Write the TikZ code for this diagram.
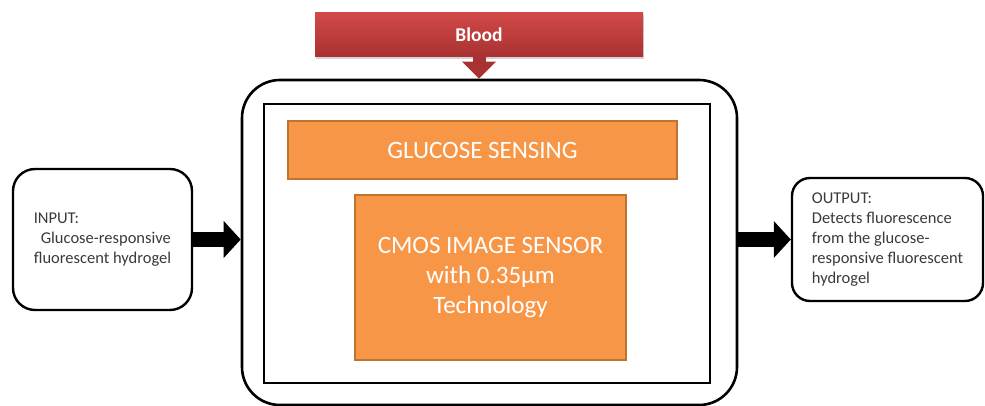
\documentclass[tikz,border=0pt]{standalone}
\usepackage{fontspec}
\setmainfont{Carlito}
\usetikzlibrary{arrows.meta,shadows}
\definecolor{orangefill}{HTML}{F79646}
\definecolor{orangeedge}{HTML}{C0722F}
\definecolor{bloodtop}{HTML}{D24848}
\definecolor{bloodbot}{HTML}{A93131}
\definecolor{bloodarrow}{HTML}{A83232}
\definecolor{labelgray}{HTML}{3A3A3A}
\begin{document}
\begin{tikzpicture}[x=1pt,y=-1pt,
  frame/.style={draw=black, line width=2.6pt, inner sep=0pt},
  orangebox/.style={draw=orangeedge, line width=1.2pt, fill=orangefill,
    text=white, font=\fontsize{25}{30}\selectfont, align=center, inner sep=0pt},
  sidebox/.style={draw=black, line width=2.4pt, fill=white, text=labelgray,
    font=\fontsize{16.5}{20}\selectfont, align=left, inner sep=0pt},
  bigarrow/.style={line width=15pt, -{Triangle[width=36pt,length=17pt]}},
  bannerbox/.style={top color=bloodtop, bottom color=bloodbot, draw=none,
    text=white, font=\fontsize{19.5}{22}\selectfont\bfseries, inner sep=0pt,
    drop shadow={shadow xshift=1pt, shadow yshift=-2pt, opacity=0.35}}]
\useasboundingbox (0,0) rectangle (985,406);
\clip (0,0) rectangle (985,406);
\fill[white] (0,0) rectangle (985,406);

% main sensor block
\node[frame, rounded corners=38pt, minimum width=495pt, minimum height=325pt] (outer) at (489.5,242.5) {};
\node[frame, minimum width=446pt, minimum height=279pt] (inner) at (487,243.5) {};
\node[orangebox, minimum width=389pt, minimum height=58pt] (sensing) at (482.5,150) {GLUCOSE SENSING};
\node[orangebox, minimum width=271pt, minimum height=165pt] (cmos) at (490.5,277.5)
  {CMOS IMAGE SENSOR\\ with 0.35µm\\ Technology};

% blood input banner
\node[bannerbox, minimum width=328pt, minimum height=44pt] (blood) at (479,35) {Blood};
\draw[bloodarrow, line width=13pt, -{Triangle[width=33pt,length=17pt]}]
  (blood.south) -- (blood.south |- outer.north);

% input and output boxes
\node[sidebox, rounded corners=22pt, minimum width=179pt, minimum height=141pt] (input) at (102.5,239.5)
  {INPUT:\\ \hspace*{7pt}Glucose-responsive\\ fluorescent hydrogel};
\node[sidebox, rounded corners=18pt, minimum width=191pt, minimum height=123pt] (output) at (887.5,239.5)
  {OUTPUT:\\ Detects fluorescence\\ from the glucose-\\ responsive fluorescent\\ hydrogel};

% flow arrows
\draw[bigarrow] (input.east) -- (input.east -| outer.west);
\draw[bigarrow] (outer.east |- output.west) -- (output.west);
\end{tikzpicture}
\end{document}
